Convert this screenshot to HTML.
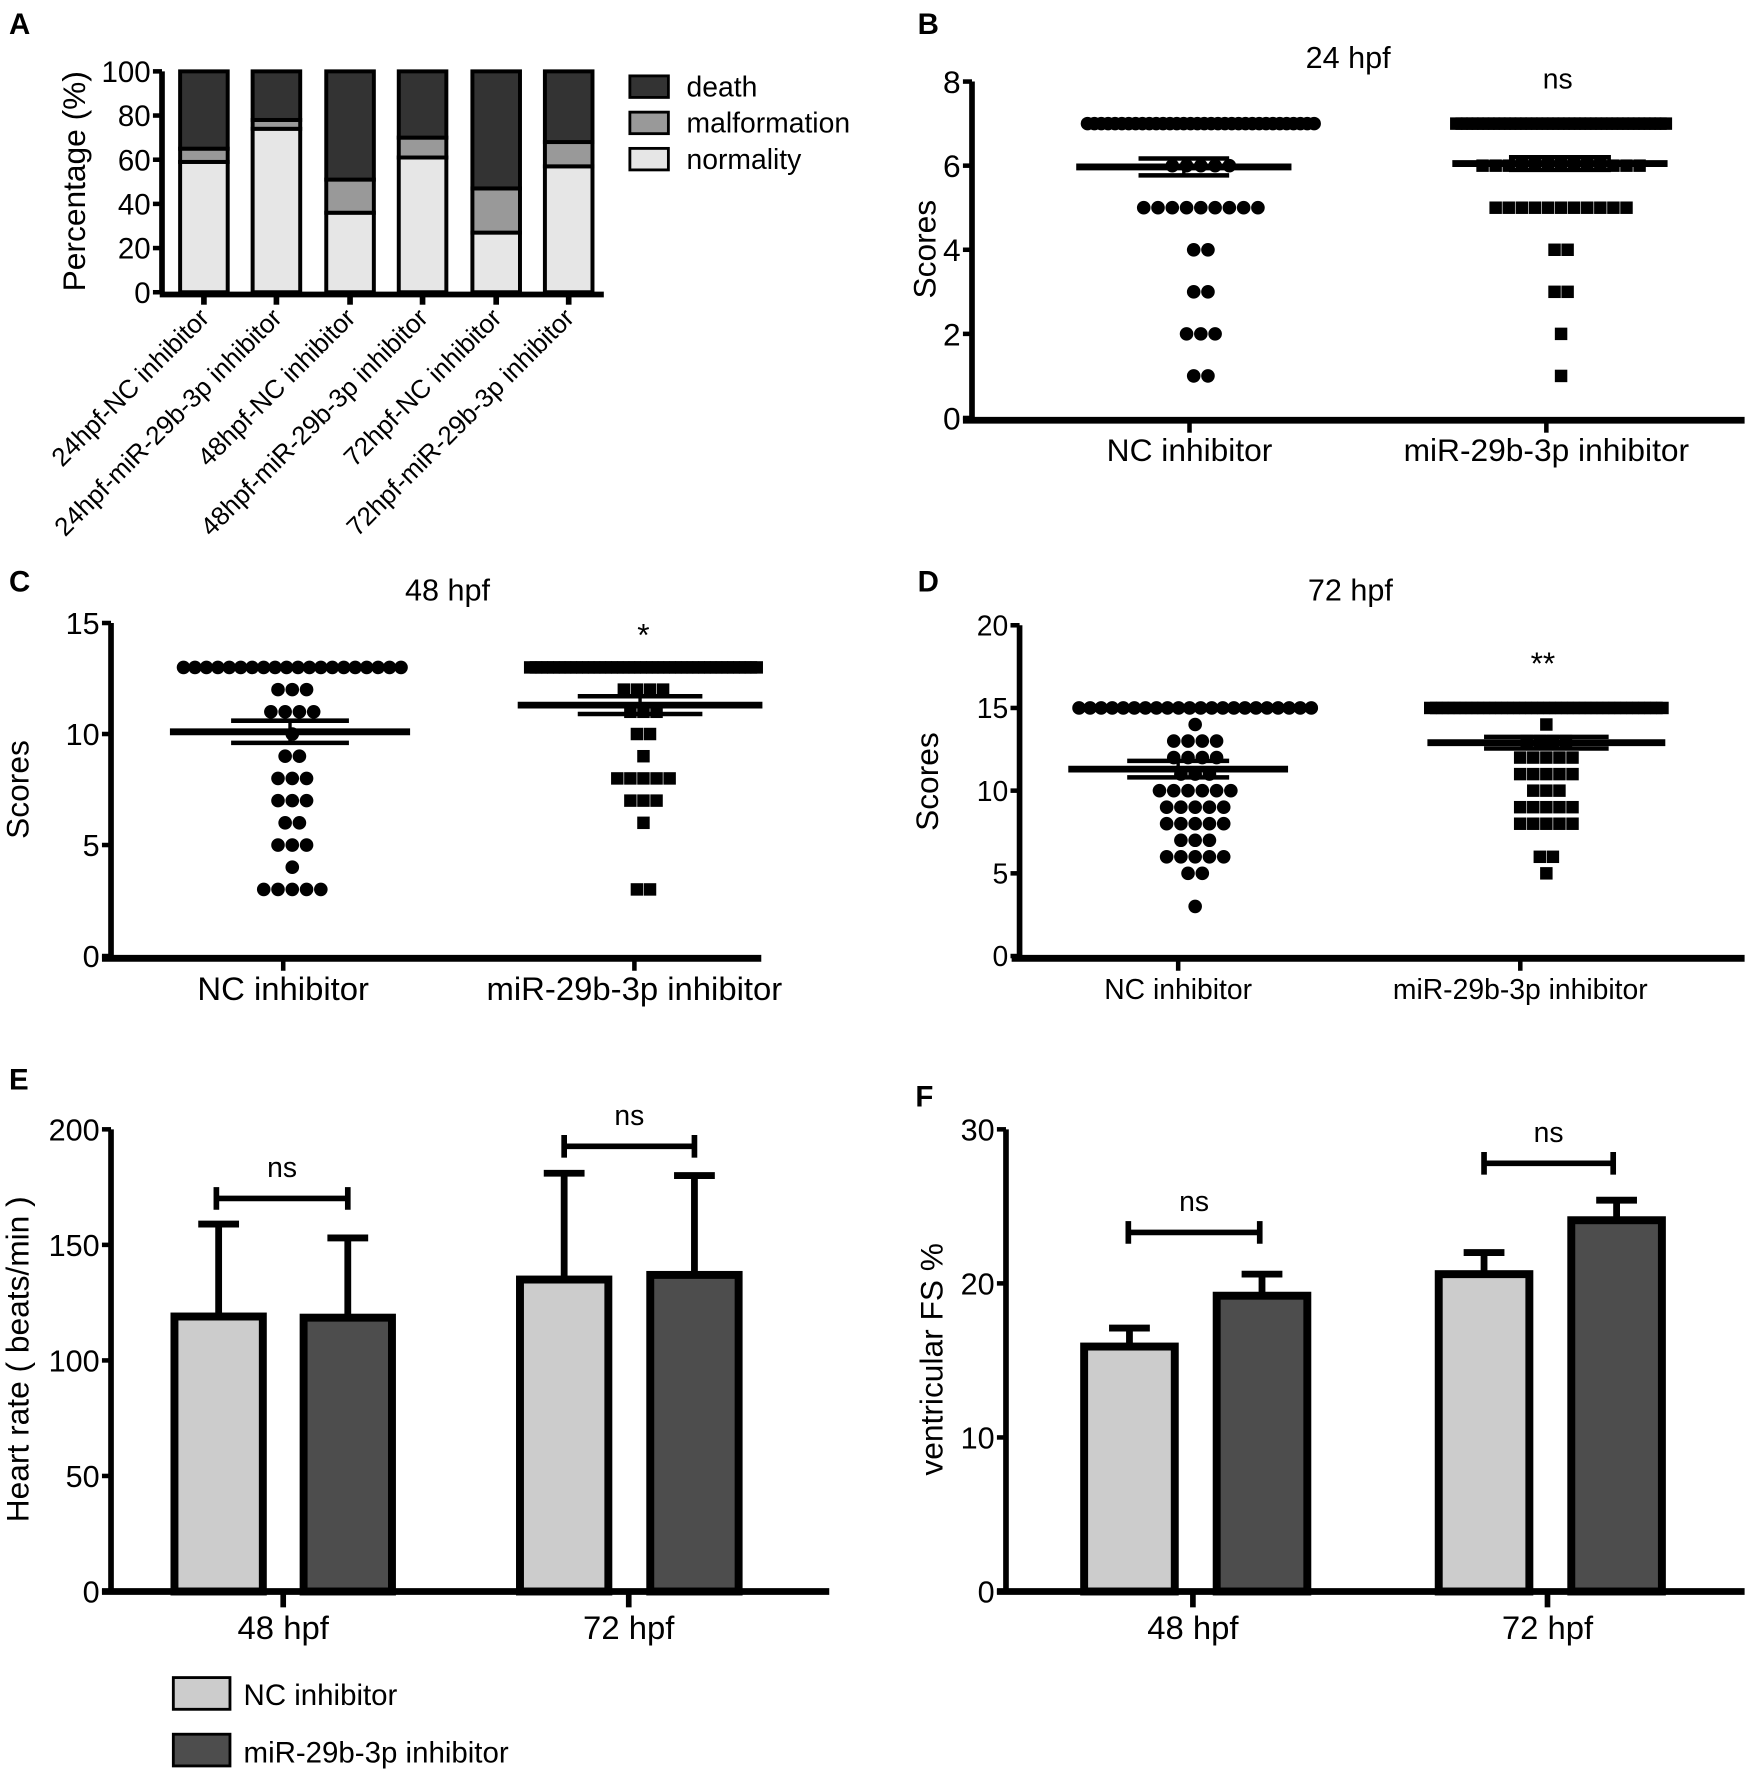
<!DOCTYPE html>
<html><head><meta charset="utf-8">
<style>
html,body{margin:0;padding:0;background:#fff;}
svg{display:block;}
text{font-family:"Liberation Sans",Arial,sans-serif;fill:#000;}
</style></head>
<body>
<svg id="fig" width="1748" height="1775" viewBox="0 0 1543 1567" preserveAspectRatio="none" xmlns="http://www.w3.org/2000/svg"></svg>
<script>
// ---- Panel A data ----
var aCategories = ["24hpf-NC inhibitor","24hpf-miR-29b-3p inhibitor","48hpf-NC inhibitor","48hpf-miR-29b-3p inhibitor","72hpf-NC inhibitor","72hpf-miR-29b-3p inhibitor"];
var aNormality = [59,74,36,61,27,57];
var aMalformation = [6,4,15,9,20,11];
var aDeath = [35,22,49,30,53,32];
var aTicks = [0,20,40,60,80,100];
// ---- Panel B data ----
var bLevels = [7,6,5,4,3,2,1];
var bNC = [34,5,9,2,2,3,2];
var bMI = [40,13,11,2,2,1,1];
var bMean = [5.97,6.05];
var bSem = [0.2,0.15];
var bTicks = [0,2,4,6,8];
// ---- Panel C data ----
var cLevels = [13,12,11,10,9,8,7,6,5,4,3];
var cNC = [20,3,4,1,2,3,3,2,3,1,5];
var cMI = [40,4,3,2,1,5,3,1,0,0,2];
var cMean = [10.1,11.3];
var cSem = [0.5,0.4];
var cTicks = [0,5,10,15];
// ---- Panel D data ----
var dLevels = [15,14,13,12,11,10,9,8,7,6,5,3];
var dNC = [22,1,4,4,3,6,5,5,3,5,2,1];
var dMI = [40,1,4,5,5,3,5,5,0,2,1,0];
var dMean = [11.3,12.9];
var dSem = [0.5,0.35];
var dTicks = [0,5,10,15,20];
// ---- Panel E data ----
var eGroups = ["48 hpf","72 hpf"];
var eNC = [119,135];
var eMI = [118.5,137];
var eNCsd = [40,46];
var eMIsd = [34.5,43];
var eTicks = [0,50,100,150,200];
// ---- Panel F data ----
var fNC = [15.9,20.6];
var fMI = [19.2,24.1];
var fNCerr = [1.2,1.4];
var fMIerr = [1.4,1.3];
var fTicks = [0,10,20,30];

var NS = "http://www.w3.org/2000/svg";
var svg = document.getElementById('fig');
function mk(tag, attrs, name){
  var el = document.createElementNS(NS, tag);
  for (var k in attrs) el.setAttribute(k, attrs[k]);
  
  
  svg.appendChild(el);
  return el;
}
function txt(x,y,s,size,name,opts){
  opts=opts||{};
  var a={x:x,y:y,'font-size':size,'text-anchor':opts.anchor||'middle'};
  if(opts.weight) a['font-weight']=opts.weight;
  if(opts.transform) a.transform=opts.transform;
  var t=mk('text',a,name);
  t.textContent=s;
  return t;
}
function line(x1,y1,x2,y2,w,name){
  return mk('line',{x1:x1,y1:y1,x2:x2,y2:y2,stroke:'#000','stroke-width':w},name);
}
function scale(d0,d1,r0,r1){return function(v){return r0+(v-d0)*(r1-r0)/(d1-d0);};}

function yAxis(x,y0,y1,ticks,sc,fs,prefix){
  line(x,y0+2,x,y1,5,prefix+'-y-axis');
  ticks.forEach(function(t){
    var y=sc(t);
    line(x-8,y,x,y,4,prefix+'-y-tick');
    txt(x-10,y+fs*0.36,String(t),fs,prefix+'-y-tick-label',{anchor:'end'});
  });
}

// ===== Panel A =====
txt(8,30,"A",26,'panel-a-label',{anchor:'start',weight:'bold'});
var aY = scale(0,100,258,63);
var aCx = [180,244,309,373,438,502];
yAxis(143,258,63,aTicks,aY,26,'panel-a');
line(141,260,533,260,5,'panel-a-x-axis');
txt(75,160,"Percentage (%)",28,'panel-a-y-title',{transform:'rotate(-90 75 160)'});
for(var i=0;i<aCategories.length;i++){
  var cx=aCx[i], w=42, base=0;
  var segs=[[aNormality[i],'#e6e6e6','normality'],[aMalformation[i],'#999999','malformation'],[aDeath[i],'#333333','death']];
  segs.forEach(function(s){
    if(s[0]<=0) return;
    var yt=aY(base+s[0]), yb=aY(base);
    mk('rect',{x:cx-w/2,y:yt,width:w,height:yb-yt,fill:s[1],stroke:'#000','stroke-width':3.5},'bar-'+s[2]+'-'+(i+1));
    base+=s[0];
  });
  line(cx,260,cx,269,5,'panel-a-x-tick');
  txt(cx+6,282,aCategories[i],23,'panel-a-x-label',{anchor:'end',transform:'rotate(-45 '+(cx+6)+' 282)'});
}
[['death','#333333',67],['malformation','#999999',99],['normality','#e6e6e6',131]].forEach(function(l){
  mk('rect',{x:556,y:l[2],width:34,height:19,fill:l[1],stroke:'#000','stroke-width':2.5},'legend-swatch-'+l[0]);
  txt(606,l[2]+18,l[0],25,'legend-entry-'+l[0],{anchor:'start'});
});

// ===== dot plot helpers =====
function dotPlot(cx,levels,counts,sc,maxW,shape,size,prefix){
  for(var i=0;i<levels.length;i++){
    var n=counts[i]; if(!n) continue;
    var y=sc(levels[i]);
    var sp = n>1 ? Math.min(size*1.05, maxW/(n-1)) : 0;
    for(var j=0;j<n;j++){
      var x=cx+(j-(n-1)/2)*sp;
      if(shape==='circle') mk('circle',{cx:x,cy:y,r:size/2,fill:'#000'},prefix+'-point');
      else mk('rect',{x:x-size/2,y:y-size/2,width:size,height:size,fill:'#000'},prefix+'-point');
    }
  }
}
function meanSem(cx,mean,sem,sc,hw,sw,prefix){
  line(cx-hw,sc(mean),cx+hw,sc(mean),6,prefix+'-mean-line');
  line(cx-sw,sc(mean+sem),cx+sw,sc(mean+sem),4,prefix+'-sem-upper');
  line(cx-sw,sc(mean-sem),cx+sw,sc(mean-sem),4,prefix+'-sem-lower');
  line(cx,sc(mean+sem),cx,sc(mean-sem),3,prefix+'-sem-whisker');
}

// ===== Panel B =====
txt(810,30,"B",26,'panel-b-label',{anchor:'start',weight:'bold'});
txt(1190,60,"24 hpf",27,'panel-b-title');
var bY=scale(0,8,369,72);
yAxis(858,369,72,bTicks,bY,28,'panel-b');
line(850,371,1540,371,6,'panel-b-x-axis');
txt(826,220,"Scores",28,'panel-b-y-title',{transform:'rotate(-90 826 220)'});
var bCx=[1050,1365];
dotPlot(1060,bLevels,bNC,bY,200,'circle',12,'panel-b-nc');
dotPlot(1378,bLevels,bMI,bY,185,'rect',11,'panel-b-mir');
meanSem(1045,bMean[0],bSem[0],bY,95,40,'panel-b-nc');
meanSem(1377,bMean[1],bSem[1],bY,95,45,'panel-b-mir');
line(bCx[0],371,bCx[0],382,4,'panel-b-x-tick');
line(bCx[1],371,bCx[1],382,4,'panel-b-x-tick');
txt(bCx[0],407,"NC inhibitor",28,'panel-b-x-label-nc');
txt(bCx[1],407,"miR-29b-3p inhibitor",28,'panel-b-x-label-mir');
txt(1375,78,"ns",25,'panel-b-significance');

// ===== Panel C =====
txt(8,522,"C",26,'panel-c-label',{anchor:'start',weight:'bold'});
txt(395,530,"48 hpf",27,'panel-c-title');
var cY=scale(0,15,844,550);
yAxis(98,844,550,cTicks,cY,27,'panel-c');
line(90,846,672,846,6,'panel-c-x-axis');
txt(25,697,"Scores",28,'panel-c-y-title',{transform:'rotate(-90 25 697)'});
var cCx=[250,560];
dotPlot(258,cLevels,cNC,cY,192,'circle',12,'panel-c-nc');
dotPlot(568,cLevels,cMI,cY,200,'rect',11,'panel-c-mir');
meanSem(256,cMean[0],cSem[0],cY,106,52,'panel-c-nc');
meanSem(565,cMean[1],cSem[1],cY,108,55,'panel-c-mir');
line(cCx[0],846,cCx[0],857,4,'panel-c-x-tick');
line(cCx[1],846,cCx[1],857,4,'panel-c-x-tick');
txt(cCx[0],883,"NC inhibitor",29,'panel-c-x-label-nc');
txt(cCx[1],883,"miR-29b-3p inhibitor",29,'panel-c-x-label-mir');
txt(568,570,"*",28,'panel-c-significance');

// ===== Panel D =====
txt(810,522,"D",26,'panel-d-label',{anchor:'start',weight:'bold'});
txt(1192,530,"72 hpf",27,'panel-d-title');
var dY=scale(0,20,844,552);
yAxis(900,844,552,dTicks,dY,25,'panel-d');
line(893,846,1540,846,6,'panel-d-x-axis');
txt(828,690,"Scores",28,'panel-d-y-title',{transform:'rotate(-90 828 690)'});
var dCx=[1040,1342];
dotPlot(1055,dLevels,dNC,dY,205,'circle',12,'panel-d-nc');
dotPlot(1365,dLevels,dMI,dY,205,'rect',11,'panel-d-mir');
meanSem(1040,dMean[0],dSem[0],dY,97,45,'panel-d-nc');
meanSem(1365,dMean[1],dSem[1],dY,105,55,'panel-d-mir');
line(dCx[0],846,dCx[0],857,4,'panel-d-x-tick');
line(dCx[1],846,dCx[1],857,4,'panel-d-x-tick');
txt(dCx[0],882,"NC inhibitor",25,'panel-d-x-label-nc');
txt(dCx[1],882,"miR-29b-3p inhibitor",25,'panel-d-x-label-mir');
txt(1362,595,"**",28,'panel-d-significance');

// ===== bar chart helpers =====
function barPanel(prefix,sc,axisX,xEnd,ncVals,miVals,ncErr,miErr,ncX,miX,bw,gx,ticks,fs){
  yAxis(axisX,1405,997,ticks,sc,fs,prefix);
  line(axisX-8,1405,xEnd,1405,6,prefix+'-x-axis');
  for(var i=0;i<2;i++){
    [[ncX[i],ncVals[i],ncErr[i],'#cccccc','nc'],[miX[i],miVals[i],miErr[i],'#4d4d4d','mir']].forEach(function(b){
      var cx=b[0], yt=sc(b[1]), ye=sc(b[1]+b[2]);
      line(cx,yt,cx,ye,6,prefix+'-error-'+b[4]);
      line(cx-18,ye,cx+18,ye,6,prefix+'-error-cap-'+b[4]);
      mk('rect',{x:cx-bw/2,y:yt,width:bw,height:1405-yt,fill:b[3],stroke:'#000','stroke-width':7},prefix+'-bar-'+b[4]+'-'+(i+1));
    });
    line(gx[i],1405,gx[i],1419,5,prefix+'-x-tick');
    txt(gx[i],1447,eGroups[i],29,prefix+'-x-label');
  }
}
function bracket(x1,x2,y,label,name){
  line(x1,y,x2,y,5,name+'-bracket');
  line(x1,y-10,x1,y+10,5,name+'-bracket-end');
  line(x2,y-10,x2,y+10,5,name+'-bracket-end');
  txt((x1+x2)/2,y-19,label,25,name+'-label');
}

// ===== Panel E =====
txt(8,962,"E",26,'panel-e-label',{anchor:'start',weight:'bold'});
var eY=scale(0,200,1405,997);
barPanel('panel-e',eY,98,732,eNC,eMI,eNCsd,eMIsd,[193,498],[307,613],78,[250,555],eTicks,27);
txt(25,1200,"Heart rate ( beats/min )",28,'panel-e-y-title',{transform:'rotate(-90 25 1200)'});
bracket(191,307,1058,"ns",'panel-e-48');
bracket(498,613,1012,"ns",'panel-e-72');
mk('rect',{x:153,y:1481,width:50,height:28,fill:'#cccccc',stroke:'#000','stroke-width':2.5},'legend-swatch-nc');
txt(215,1505,"NC inhibitor",26,'legend-entry-nc',{anchor:'start'});
mk('rect',{x:153,y:1531,width:50,height:28,fill:'#4d4d4d',stroke:'#000','stroke-width':2.5},'legend-swatch-mir');
txt(215,1556,"miR-29b-3p inhibitor",26,'legend-entry-mir',{anchor:'start'});

// ===== Panel F =====
txt(808,977,"F",26,'panel-f-label',{anchor:'start',weight:'bold'});
var fY=scale(0,30,1405,997);
barPanel('panel-f',fY,888,1540,fNC,fMI,fNCerr,fMIerr,[997,1310],[1114,1427],80,[1053,1366],fTicks,27);
txt(832,1200,"ventricular FS %",28,'panel-f-y-title',{transform:'rotate(-90 832 1200)'});
bracket(996,1112,1088,"ns",'panel-f-48');
bracket(1310,1424,1027,"ns",'panel-f-72');
</script>
</body></html>
